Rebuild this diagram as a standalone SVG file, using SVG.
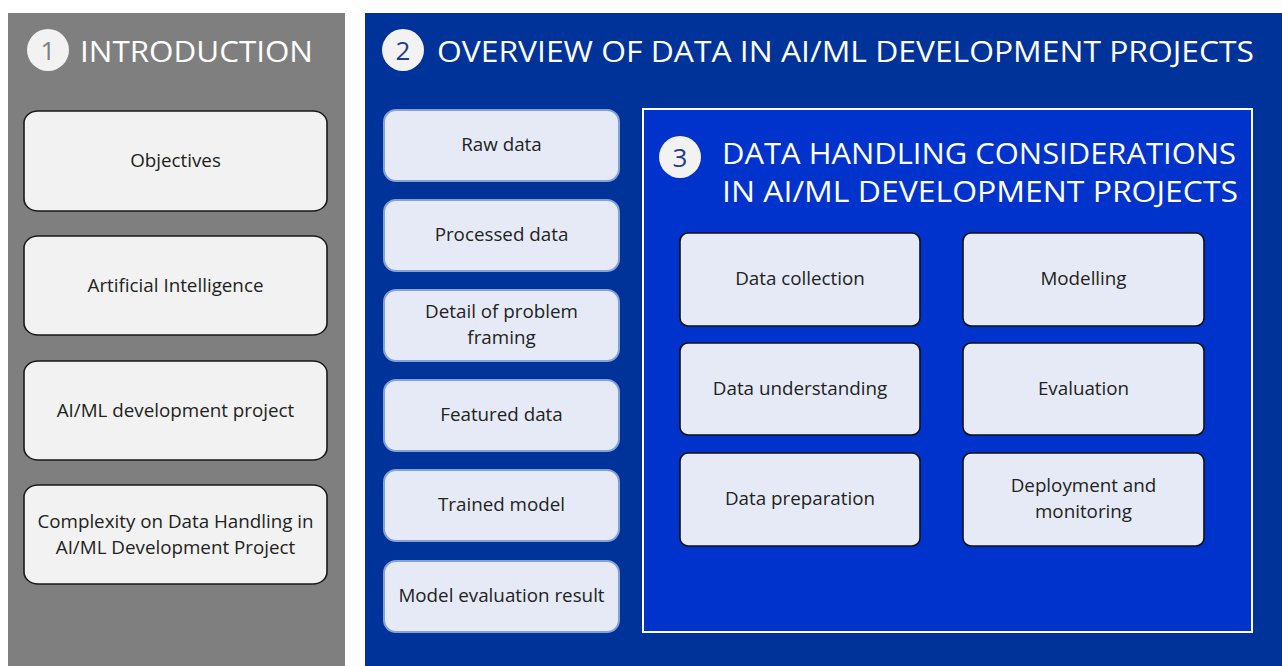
<svg xmlns="http://www.w3.org/2000/svg" width="1282" height="666" viewBox="0 0 1282 666">
  <style>
    .panel-gray { fill: #7F7F7F; }
    .panel-blue { fill: #003399; }
    .panel-inner { fill: #0033CC; stroke: #FFFFFF; stroke-width: 2; }
    .badge { fill: #F2F2F2; }
    .badge-num { font-family: "Open Sans", "Liberation Sans", sans-serif; font-size: 26px; text-anchor: middle; }
    .title { font-family: "Open Sans", "Liberation Sans", sans-serif; font-size: 30px; fill: #FFFFFF; }
    .box-gray { fill: #F2F2F2; stroke: #1A1A1A; stroke-width: 1.6; }
    .box-soft { fill: #E6EAF6; stroke: #85A1DA; stroke-width: 2; }
    .box-step { fill: #E6EAF6; stroke: #111111; stroke-width: 1.6; }
    .label { font-family: "Open Sans", "Liberation Sans", sans-serif; font-size: 18.8px; fill: #222222; text-anchor: middle; }
  </style>

  <rect width="1282" height="666" fill="#FFFFFF"/>

  <!-- Section 1: introduction -->
  <g id="section-1">
    <rect class="panel-gray" x="8" y="13" width="337" height="653"/>
    <circle class="badge" cx="48" cy="50" r="21" fill="#FFFFFF"/>
    <text class="badge-num" x="48" y="59.5" fill="#7F7F7F">1</text>
    <text class="title" x="80" y="62" textLength="233" lengthAdjust="spacingAndGlyphs">INTRODUCTION</text>
  </g>

  <g id="objectives">
    <rect class="box-gray" x="24" y="111" width="303" height="100" rx="14" ry="12"/>
    <text class="label" x="175.5" y="167">Objectives</text>
  </g>
  <g id="artificial-intelligence">
    <rect class="box-gray" x="24" y="236" width="303" height="99" rx="14" ry="12"/>
    <text class="label" x="175.5" y="292">Artificial Intelligence</text>
  </g>
  <g id="aiml-project">
    <rect class="box-gray" x="24" y="361" width="303" height="99" rx="14" ry="12"/>
    <text class="label" x="175.5" y="417">AI/ML development project</text>
  </g>
  <g id="complexity">
    <rect class="box-gray" x="24" y="485" width="303" height="99" rx="14" ry="12"/>
    <text class="label" x="175.5" y="528">Complexity on Data Handling in</text>
    <text class="label" x="175.5" y="554">AI/ML Development Project</text>
  </g>

  <!-- Section 2: overview of data -->
  <g id="section-2">
    <rect class="panel-blue" x="365" y="13" width="917" height="653"/>
    <circle class="badge" cx="403" cy="50" r="21"/>
    <text class="badge-num" x="403" y="59.5" fill="#1F3B8F">2</text>
    <text class="title" x="437" y="62" textLength="817" lengthAdjust="spacingAndGlyphs">OVERVIEW OF DATA IN AI/ML DEVELOPMENT PROJECTS</text>
  </g>

  <g id="raw-data">
    <rect class="box-soft" x="384" y="110" width="235" height="71" rx="12"/>
    <text class="label" x="501.5" y="151">Raw data</text>
  </g>
  <g id="processed-data">
    <rect class="box-soft" x="384" y="200" width="235" height="71" rx="12"/>
    <text class="label" x="501.5" y="241">Processed data</text>
  </g>
  <g id="problem-framing">
    <rect class="box-soft" x="384" y="290" width="235" height="71" rx="12"/>
    <text class="label" x="501.5" y="318">Detail of problem</text>
    <text class="label" x="501.5" y="344">framing</text>
  </g>
  <g id="featured-data">
    <rect class="box-soft" x="384" y="380" width="235" height="71" rx="12"/>
    <text class="label" x="501.5" y="421">Featured data</text>
  </g>
  <g id="trained-model">
    <rect class="box-soft" x="384" y="470" width="235" height="71" rx="12"/>
    <text class="label" x="501.5" y="511">Trained model</text>
  </g>
  <g id="evaluation-result">
    <rect class="box-soft" x="384" y="561" width="235" height="71" rx="12"/>
    <text class="label" x="501.5" y="602">Model evaluation result</text>
  </g>

  <!-- Section 3: data handling considerations -->
  <g id="section-3">
    <rect class="panel-inner" x="643" y="109" width="609" height="523"/>
    <circle class="badge" cx="680" cy="157" r="21"/>
    <text class="badge-num" x="680" y="166.5" fill="#1F3B8F">3</text>
    <text class="title" x="722" y="164" textLength="514" lengthAdjust="spacingAndGlyphs">DATA HANDLING CONSIDERATIONS</text>
    <text class="title" x="722" y="202" textLength="516" lengthAdjust="spacingAndGlyphs">IN AI/ML DEVELOPMENT PROJECTS</text>
  </g>

  <g id="data-collection">
    <rect class="box-step" x="680" y="233" width="240" height="93" rx="8"/>
    <text class="label" x="800" y="285">Data collection</text>
  </g>
  <g id="data-understanding">
    <rect class="box-step" x="680" y="343" width="240" height="92" rx="8"/>
    <text class="label" x="800" y="395">Data understanding</text>
  </g>
  <g id="data-preparation">
    <rect class="box-step" x="680" y="453" width="240" height="93" rx="8"/>
    <text class="label" x="800" y="505">Data preparation</text>
  </g>
  <g id="modelling">
    <rect class="box-step" x="963" y="233" width="241" height="93" rx="8"/>
    <text class="label" x="1083.5" y="285">Modelling</text>
  </g>
  <g id="evaluation">
    <rect class="box-step" x="963" y="343" width="241" height="92" rx="8"/>
    <text class="label" x="1083.5" y="395">Evaluation</text>
  </g>
  <g id="deployment">
    <rect class="box-step" x="963" y="453" width="241" height="93" rx="8"/>
    <text class="label" x="1083.5" y="492">Deployment and</text>
    <text class="label" x="1083.5" y="518">monitoring</text>
  </g>

  <!-- no connectors between nodes -->
  <g id="connectors"/>
</svg>
